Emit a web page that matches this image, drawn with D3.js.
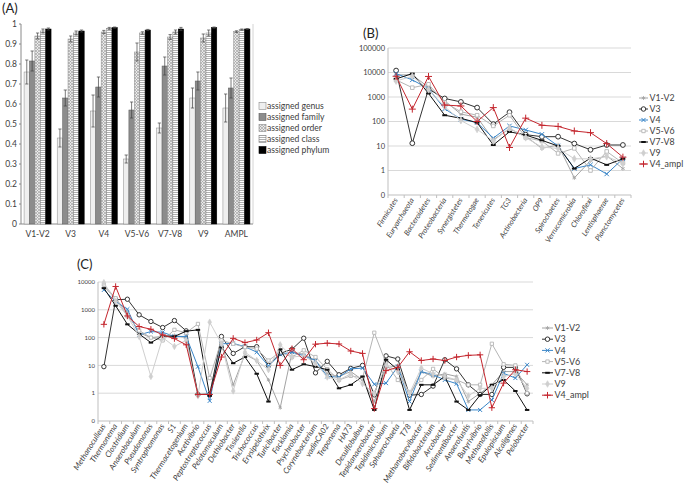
<!DOCTYPE html>
<html lang="en">
<head>
<meta charset="UTF-8">
<title>Taxonomic assignment by 16S region</title>
<script src="https://d3js.org/d3.v7.min.js"></script>
<style>
  body { margin: 0; background: #fff; }
  svg { display: block; font-family: Lato, "Open Sans", sans-serif; }
</style>
</head>
<body>
<svg width="685" height="489"></svg>
<script>
// ---------- panel A data ----------
const regions = ["V1-V2", "V3", "V4", "V5-V6", "V7-V8", "V9", "AMPL"];
const levels = ["assigned genus", "assigned family", "assigned order", "assigned class", "assigned phylum"];
const genusVal = [0.76, 0.43, 0.565, 0.325, 0.48, 0.63, 0.58];
const genusErr = [0.06, 0.045, 0.08, 0.02, 0.025, 0.05, 0.07];
const familyVal = [0.815, 0.63, 0.685, 0.57, 0.79, 0.715, 0.68];
const familyErr = [0.05, 0.04, 0.05, 0.04, 0.045, 0.045, 0.05];
const orderVal = [0.94, 0.925, 0.96, 0.86, 0.935, 0.93, 0.962];
const orderErr = [0.015, 0.015, 0.008, 0.045, 0.012, 0.02, 0.004];
const classVal = [0.965, 0.955, 0.978, 0.955, 0.96, 0.955, 0.972];
const classErr = [0.01, 0.01, 0.005, 0.006, 0.01, 0.015, 0.003];
const phylumVal = [0.975, 0.965, 0.982, 0.97, 0.975, 0.982, 0.975];
const phylumErr = [0.005, 0.005, 0.003, 0.003, 0.008, 0.003, 0.002];
const aTicks = [0, 0.1, 0.2, 0.3, 0.4, 0.5, 0.6, 0.7, 0.8, 0.9, 1];

// ---------- shared series ----------
const seriesNames = ["V1-V2", "V3", "V4", "V5-V6", "V7-V8", "V9", "V4_ampl"];

// ---------- panel B data (phyla) ----------
const phyla = ["Firmicutes", "Euryarchaeota", "Bacteroidetes", "Proteobacteria", "Synergistetes",
  "Thermotogae", "Tenericutes", "TG3", "Actinobacteria", "OP9", "Spirochaetes",
  "Verrucomicrobia", "Chloroflexi", "Lentisphaerae", "Planctomycetes"];
const bV1V2 = [8000, 8000, 2500, 700, 200, 150, 18, 50, 25, 8, 11, 0.5, 2.5, 4, 1.2];
const bV3 = [12000, 13, 2100, 870, 630, 370, 78, 240, 29, 24, 24, 12.6, 7, 11, 11];
const bV4 = [9000, 5000, 2200, 330, 125, 90, 21, 66, 45, 30, 10, 1.2, 1.7, 0.72, 3];
const bV5V6 = [5000, 2400, 3300, 600, 250, 180, 66, 180, 22, 16, 5, 8, 1.0, 6, 2];
const bV7V8 = [5500, 9000, 1400, 180, 135, 90, 11, 38, 28, 17, 10, 1.2, 3.2, 1.7, 3];
const bV9 = [4500, 7000, 2000, 400, 110, 48, 16, 55, 22, 9, 8, 3, 3, 3.7, 2];
const bV4ampl = [7000, 320, 6900, 470, 430, 100, 370, 8.7, 137, 70, 63, 41, 35, 12.5, 3.5];
const bTicks = [0.1, 1, 10, 100, 1000, 10000, 100000];

// ---------- panel C data (genera) ----------
const genera = ["Methanoculleus", "Thermonema", "Clostridium", "Anaerobaculum", "Pseudomonas",
  "Syntrophomonas", "S1", "Thermacetogenium", "Acetivibrio", "Peptostreptococcus", "Pelotomaculum",
  "Dethiobacter", "Tissierella", "Trichococcus", "Erysipelothrix", "Turicibacter", "Facklamia",
  "Psychrobacter", "Corynebacterium", "vadinCA02", "Treponema", "HA73", "Desulfobulbus",
  "Tepidanaerobacter", "Tepidimicrobium", "Sphaerochaeta", "T78", "Methanobrevibacter",
  "Bifidobacterium", "Arcobacter", "Sedimentibacter", "Anaerofustis", "Butyrivibrio",
  "Methanofollis", "Epulopiscium", "Alcaligenes", "Pelobacter"];
const cV1V2 = [7000, 2500, 800, 150, 100, 110, 120, 100, 0.9, 1, 70, 2, 25, 15, 3, 0.3, 30, 25, 15,
  5, 4, 6, 3, 0.5, 8, 10, 0.8, 6, 4, 5, 4, 0.5, 1, 2, 6, 6, 2];
const cV3 = [9, 2300, 2400, 660, 380, 230, 410, 175, 0.9, 0.9, 110, 27, 47, 47, 10, 27, 38, 95, 5.4,
  14, 4.6, 7.8, 10, 0.87, 22, 17, 0.85, 0.9, 1.8, 16, 7.5, 2, 0.9, 0.9, 8.5, 8.5, 0.95];
const cV4 = [5200, 2000, 1050, 125, 165, 155, 110, 110, 9, 0.53, 60, 62, 47, 30, 9.5, 25, 30, 22, 15,
  4, 3.8, 7.5, 8, 2.1, 2.3, 9, 0.5, 6, 4.6, 3, 2.2, 0.25, 0.25, 0.57, 5.2, 3.5, 10.5];
const cV5V6 = [8000, 2600, 600, 180, 100, 79, 190, 150, 310, 3.5, 80, 60, 45, 40, 15, 30, 20, 35, 20,
  7.3, 3, 4.2, 3.5, 150, 12, 3, 1.1, 3, 7.5, 3.5, 3, 2, 2, 60, 11, 10, 1];
const cV7V8 = [6000, 1400, 300, 135, 66, 115, 110, 170, 190, 0.8, 45, 12, 20, 5, 0.5, 38, 7, 11, 9,
  7, 1.5, 2, 4, 0.25, 16, 7, 0.25, 2, 2, 4, 0.5, 0.25, 0.85, 2, 3, 1.2, 0.25];
const cV9 = [9500, 2000, 600, 110, 4, 100, 48, 80, 0.8, 360, 60, 1.2, 30, 15, 7, 55, 20, 22, 12,
  3.8, 3, 5, 2.2, 1, 10, 6, 1, 8, 5, 4, 3, 0.8, 1.5, 1.5, 4, 5, 1.5];
const cV4ampl = [300, 6900, 600, 250, 200, 125, 92, 55, 0.9, 0.9, 20, 94, 66, 82, 150, 10, 40, 16, 58,
  63, 59, 33, 27, 0.28, 6.5, 8.5, 31, 15, 17, 15, 20, 23, 24, 0.3, 2.3, 7, 6];
const cTicks = [0.1, 1, 10, 100, 1000, 10000];

const svg = d3.select("svg");
const txt = "#404040";

// ---------- patterns ----------
const defs = svg.append("defs");
const pOrder = defs.append("pattern").attr("id", "pOrder").attr("patternUnits", "userSpaceOnUse")
  .attr("width", 3).attr("height", 3);
pOrder.append("rect").attr("width", 3).attr("height", 3).attr("fill", "#e8e8e8");
pOrder.append("path").attr("d", "M0,3L3,0M0,0L3,3").attr("stroke", "#9a9a9a").attr("stroke-width", 0.6);
const pClass = defs.append("pattern").attr("id", "pClass").attr("patternUnits", "userSpaceOnUse")
  .attr("width", 4).attr("height", 2);
pClass.append("rect").attr("width", 4).attr("height", 2).attr("fill", "#fff");
pClass.append("line").attr("x1", 0).attr("x2", 4).attr("y1", 0.5).attr("y2", 0.5)
  .attr("stroke", "#7a7a7a").attr("stroke-width", 0.6);

const levelFill = ["#efefef", "#8c8c8c", "url(#pOrder)", "url(#pClass)", "#000"];
const levelStroke = ["#8a8a8a", "#5a5a5a", "#8a8a8a", "#7a7a7a", "#000"];

// ---------- panel A ----------
svg.append("text").attr("x", 2).attr("y", 13).attr("font-size", 13).attr("fill", "#222").text("(A)");

const yA = d3.scaleLinear().domain([0, 1]).range([224, 24]);
const xA = d3.scaleBand().domain(regions).range([21, 253]).paddingInner(0).paddingOuter(0);
const xInner = d3.scaleBand().domain(levels).range([0, 27]);

const gA = svg.append("g");
gA.append("line").attr("x1", 253).attr("x2", 253).attr("y1", 24).attr("y2", 224).attr("stroke", "#d4d4d4");
gA.append("line").attr("x1", 21).attr("x2", 21).attr("y1", 24).attr("y2", 224).attr("stroke", "#8a8a8a");
gA.append("line").attr("x1", 21).attr("x2", 253).attr("y1", 224).attr("y2", 224).attr("stroke", "#8a8a8a");
gA.selectAll(".ta").data(aTicks).join("text")
  .attr("x", 17).attr("y", d => yA(d) + 3).attr("text-anchor", "end")
  .attr("font-size", 8.5).attr("fill", txt).text(d => d3.format("~g")(d));
gA.selectAll(".tk").data(aTicks).join("line")
  .attr("x1", 19).attr("x2", 21).attr("y1", d => yA(d)).attr("y2", d => yA(d)).attr("stroke", "#8a8a8a");

const aVals = [genusVal, familyVal, orderVal, classVal, phylumVal];
const aErrs = [genusErr, familyErr, orderErr, classErr, phylumErr];
const barData = [];
regions.forEach((r, i) => levels.forEach((l, j) => barData.push({ r, l, j, v: aVals[j][i], e: aErrs[j][i] })));

const groupOff = (xA.bandwidth() - 27) / 2;
gA.selectAll(".bar").data(barData).join("rect")
  .attr("x", d => xA(d.r) + groupOff + xInner(d.l))
  .attr("y", d => yA(d.v))
  .attr("width", xInner.bandwidth())
  .attr("height", d => yA(0) - yA(d.v))
  .attr("fill", d => levelFill[d.j]).attr("stroke", d => levelStroke[d.j]).attr("stroke-width", 0.5);

const errG = gA.selectAll(".err").data(barData).join("g")
  .attr("transform", d => `translate(${xA(d.r) + groupOff + xInner(d.l) + xInner.bandwidth() / 2},0)`);
errG.append("line").attr("y1", d => yA(d.v - d.e)).attr("y2", d => yA(d.v + d.e))
  .attr("stroke", "#444").attr("stroke-width", 0.7);
errG.append("line").attr("x1", -1.6).attr("x2", 1.6).attr("y1", d => yA(d.v + d.e)).attr("y2", d => yA(d.v + d.e))
  .attr("stroke", "#444").attr("stroke-width", 0.7);
errG.append("line").attr("x1", -1.6).attr("x2", 1.6).attr("y1", d => yA(d.v - d.e)).attr("y2", d => yA(d.v - d.e))
  .attr("stroke", "#444").attr("stroke-width", 0.7);

gA.selectAll(".xl").data(regions).join("text")
  .attr("x", d => xA(d) + xA.bandwidth() / 2).attr("y", 237).attr("text-anchor", "middle")
  .attr("font-size", 8.5).attr("fill", txt).text(d => d);

const legA = gA.selectAll(".la").data(levels).join("g")
  .attr("transform", (d, i) => `translate(259,${106 + i * 11})`);
legA.append("rect").attr("x", 0).attr("y", -3.5).attr("width", 7).attr("height", 7)
  .attr("fill", (d, i) => levelFill[i]).attr("stroke", (d, i) => levelStroke[i]).attr("stroke-width", 0.6);
legA.append("text").attr("x", 8).attr("y", 3).attr("font-size", 8.6).attr("fill", txt).text(d => d);

// ---------- line panels ----------
const seriesColors = ["#a3a3a3", "#333333", "#3a86c8", "#b5b5b5", "#111111", "#cfcfcf", "#c4262e"];
const dash = { draw(ctx, size) { const w = Math.sqrt(size) / 2; ctx.moveTo(-w, 0); ctx.lineTo(w, 0); } };
const symTypes = [d3.symbolAsterisk || d3.symbolCross, d3.symbolCircle, d3.symbolTimes || d3.symbolCross,
  d3.symbolSquare2 || d3.symbolSquare, dash, d3.symbolDiamond, d3.symbolPlus || d3.symbolCross];
const symFill = ["none", "#fff", "none", "#fff", "none", "#cfcfcf", "none"];
const symSize = [14, 20, 16, 18, 26, 16, 20];
const symStroke = [0.8, 1, 1, 0.9, 2, 0.6, 1];

function logPanel(cfg) {
  const g = svg.append("g");
  const x = d3.scalePoint().domain(cfg.cats).range([cfg.x0, cfg.x1]).padding(0.5);
  const y = d3.scaleLog().domain([cfg.ticks[0], cfg.ticks[cfg.ticks.length - 1]]).range([cfg.y0, cfg.y1]);
  const step = x.step();

  g.selectAll(".grid").data(cfg.ticks.slice(1)).join("line")
    .attr("x1", cfg.x0).attr("x2", cfg.x1).attr("y1", d => y(d)).attr("y2", d => y(d))
    .attr("stroke", "#d9d9d9").attr("stroke-width", 1);
  g.append("line").attr("x1", cfg.x0).attr("x2", cfg.x0).attr("y1", cfg.y0).attr("y2", cfg.y1).attr("stroke", "#bfbfbf");
  g.append("line").attr("x1", cfg.x0).attr("x2", cfg.x1).attr("y1", cfg.y0).attr("y2", cfg.y0).attr("stroke", "#bfbfbf");
  g.selectAll(".xt").data(d3.range(cfg.cats.length + 1)).join("line")
    .attr("x1", k => cfg.x0 + k * step).attr("x2", k => cfg.x0 + k * step)
    .attr("y1", cfg.y0).attr("y2", cfg.y0 + 3).attr("stroke", "#bfbfbf");
  g.selectAll(".yl").data(cfg.ticks).join("text")
    .attr("x", cfg.x0 - 3).attr("y", d => y(d) + cfg.yFont * 0.35).attr("text-anchor", "end")
    .attr("font-size", cfg.yFont).attr("fill", txt).text(d => d < 1 ? "0" : String(d));
  g.selectAll(".xl").data(cfg.cats).join("text")
    .attr("transform", d => `translate(${x(d) + 2},${cfg.y0 + 5}) rotate(-58)`)
    .attr("text-anchor", "end").attr("font-style", "italic")
    .attr("font-size", cfg.xFont).attr("fill", txt).text(d => d);

  const line = d3.line().x((d, i) => x(cfg.cats[i])).y(d => y(d));
  cfg.series.forEach((vals, s) => {
    g.append("path").attr("d", line(vals)).attr("fill", "none")
      .attr("stroke", seriesColors[s]).attr("stroke-width", 1);
    const sym = d3.symbol().type(symTypes[s]).size(symSize[s] * cfg.mk)();
    g.selectAll(null).data(vals).join("path")
      .attr("transform", (d, i) => `translate(${x(cfg.cats[i])},${y(d)})`)
      .attr("d", sym).attr("fill", symFill[s])
      .attr("stroke", seriesColors[s]).attr("stroke-width", symStroke[s]);
  });

  const leg = g.selectAll(".lg").data(seriesNames).join("g")
    .attr("transform", (d, i) => `translate(${cfg.lx},${cfg.ly + i * cfg.lstep})`);
  leg.append("line").attr("x1", 0).attr("x2", cfg.lw).attr("stroke", (d, i) => seriesColors[i]);
  leg.append("path").attr("transform", `translate(${cfg.lw / 2},0)`)
    .attr("d", (d, i) => d3.symbol().type(symTypes[i]).size(symSize[i] * 0.8)())
    .attr("fill", (d, i) => symFill[i]).attr("stroke", (d, i) => seriesColors[i])
    .attr("stroke-width", (d, i) => symStroke[i]);
  leg.append("text").attr("x", cfg.lw + 1.5).attr("y", 3.2).attr("font-size", cfg.lFont).attr("fill", txt).text(d => d);
}

svg.append("text").attr("x", 363).attr("y", 38).attr("font-size", 13).attr("fill", "#222").text("(B)");
logPanel({
  cats: phyla, series: [bV1V2, bV3, bV4, bV5V6, bV7V8, bV9, bV4ampl], ticks: bTicks,
  x0: 388, x1: 631, y0: 195, y1: 48, yFont: 7.5, xFont: 7.5, mk: 0.9,
  lx: 639, ly: 98, lstep: 11, lw: 9, lFont: 8.8
});

svg.append("text").attr("x", 77).attr("y", 269).attr("font-size", 13).attr("fill", "#222").text("(C)");
logPanel({
  cats: genera, series: [cV1V2, cV3, cV4, cV5V6, cV7V8, cV9, cV4ampl], ticks: cTicks,
  x0: 98, x1: 533, y0: 421, y1: 282, yFont: 6, xFont: 8, mk: 0.75,
  lx: 542, ly: 328, lstep: 11.2, lw: 11, lFont: 9
});
</script>
</body>
</html>
